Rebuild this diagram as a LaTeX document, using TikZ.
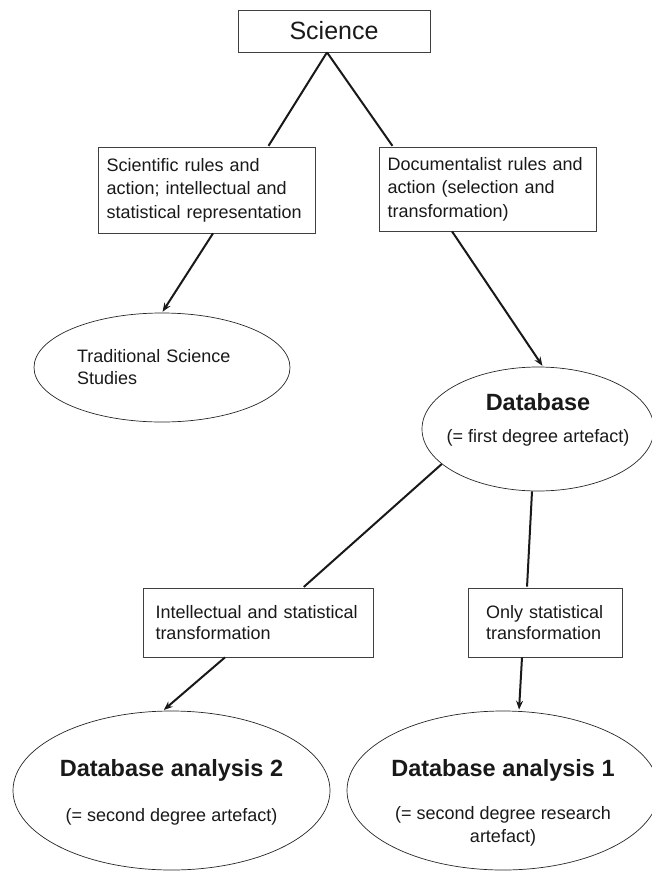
\documentclass[tikz,border=0pt]{standalone}
\usepackage{fontspec}
\setmainfont{Liberation Sans}
\usetikzlibrary{shapes.geometric,arrows.meta}

\begin{document}
\begin{tikzpicture}[x=1pt,y=-1pt,>={Stealth[length=9pt,width=7pt]},shorten >=1pt,
  box node/.style={rectangle,draw=black!75,line width=0.7pt,text=black!90,
    font=\fontsize{18}{23.5}\selectfont,align=left,inner sep=0pt},
  oval node/.style={ellipse,draw=black!85,line width=0.7pt,text=black!90,inner sep=0pt},
  title node/.style={font=\fontsize{23.5}{28}\selectfont\bfseries,text=black!90},
  sub node/.style={font=\fontsize{18}{23}\selectfont,align=center,text=black!90}]

  \useasboundingbox (0,0) rectangle (652,873);

  \node[box node,minimum width=192pt,minimum height=42pt,font=\fontsize{25}{30}\selectfont] (sci) at (334,31) {Science};
  \node[box node,minimum width=217pt,minimum height=86pt,text width=200pt] (sciact) at (206.5,190)
    {Scientific rules and\\action; intellectual and\\statistical representation};
  \node[box node,minimum width=217pt,minimum height=84pt,text width=200pt] (docact) at (487.5,189)
    {Documentalist rules and\\action (selection and\\transformation)};

  \node[oval node,minimum width=256pt,minimum height=109pt,font=\fontsize{18}{22}\selectfont,
    text width=170pt,align=left] (trad) at (162,367.5) {Traditional Science\\Studies};

  \node[oval node,minimum width=232pt,minimum height=124pt] (dbase) at (538,429) {};
  \node[title node] (dbtitle) at ([yshift=27pt]dbase.center) {Database};
  \node[sub node] (dbsub) at ([yshift=-9pt]dbase.center) {(= first degree artefact)};

  \node[box node,minimum width=230pt,minimum height=69pt,text width=205pt,font=\fontsize{18}{21.5}\selectfont]
    (intel) at (258,622.5) {Intellectual and statistical\\transformation};
  \node[box node,minimum width=154pt,minimum height=69pt,text width=118pt,font=\fontsize{18}{21.5}\selectfont]
    (onlystat) at (545,622.5) {Only statistical\\transformation};

  \node[oval node,minimum width=317pt,minimum height=159pt] (dbtwo) at (171.5,790.5) {};
  \node[title node] (twotitle) at ([yshift=20.5pt]dbtwo.center) {Database analysis 2};
  \node[sub node] (twosub) at ([yshift=-26.5pt]dbtwo.center) {(= second degree artefact)};
  \node[oval node,minimum width=312pt,minimum height=159pt] (dbone) at (503,790.5) {};
  \node[title node] (onetitle) at ([yshift=20.5pt]dbone.center) {Database analysis 1};
  \node[sub node] (onesub) at ([yshift=-36pt]dbone.center) {(= second degree research\\artefact)};

  \path[line width=2pt,draw=black!90]
    ([xshift=-7pt]sci.south) edge ([xshift=61.5pt]sciact.north)
                             edge ([xshift=-94.5pt]docact.north)
    ([xshift=6.5pt]sciact.south) edge[->] (trad.north)
    ([xshift=-35.5pt]docact.south) edge[->] ([xshift=5pt]dbase.north)
    (dbase.200) edge ([xshift=45pt]intel.north)
    ([xshift=-6pt]dbase.south) edge ([xshift=-18pt]onlystat.north)
    ([xshift=-33pt]intel.south) edge[->] ([xshift=-8.5pt]dbtwo.north)
    ([xshift=-23pt]onlystat.south) edge[->] ([xshift=16pt]dbone.north);
\end{tikzpicture}
\end{document}
